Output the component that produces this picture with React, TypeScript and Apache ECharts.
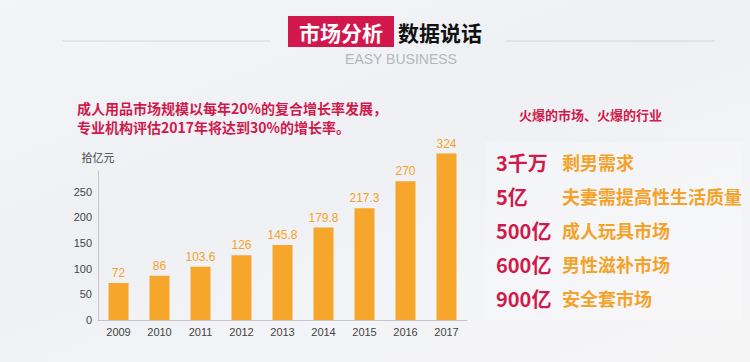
import React, { useEffect, useRef } from "react";
import * as echarts from "echarts";

const years = ["2009", "2010", "2011", "2012", "2013", "2014", "2015", "2016", "2017"];
const marketSize = [72, 86, 103.6, 126, 145.8, 179.8, 217.3, 270, 324];
const yTicks = [0, 50, 100, 150, 200, 250];
const rowNumbers = ["3千万", "5亿", "500亿", "600亿", "900亿"];
const rowTexts = ["剩男需求", "夫妻需提高性生活质量", "成人玩具市场", "男性滋补市场", "安全套市场"];

const RED = "#d01a4c";
const ORANGE = "#f5a22a";
const FONT = "'Noto Sans CJK SC', 'Noto Sans', sans-serif";

export default function App() {
  const ref = useRef<HTMLDivElement>(null);
  useEffect(() => {
    if (!ref.current) return;
    const chart = echarts.init(ref.current, undefined, { renderer: "svg" });
    const graphics: any[] = [
      { type: "rect", shape: { x: 486, y: 142, width: 256, height: 178 }, style: { fill: "rgba(255,255,255,0.22)" }, z: -1 },
      { type: "line", shape: { x1: 62, y1: 41, x2: 270, y2: 41 }, style: { stroke: "#d6d6da", lineWidth: 1 } },
      { type: "line", shape: { x1: 506, y1: 41, x2: 715, y2: 41 }, style: { stroke: "#d6d6da", lineWidth: 1 } },
      { type: "rect", shape: { x: 288, y: 16, width: 106, height: 31 }, style: { fill: "#d2174d" } },
      { type: "text", x: 341, y: 31.5, style: { text: "市场分析", fill: "#fff", font: `bold 21px ${FONT}`, textAlign: "center", textVerticalAlign: "middle" } },
      { type: "text", x: 398, y: 31.5, style: { text: "数据说话", fill: "#111", font: `bold 21px ${FONT}`, textAlign: "left", textVerticalAlign: "middle" } },
      { type: "text", x: 401, y: 58.5, style: { text: "EASY BUSINESS", fill: "#b6b6ba", font: `14px 'Liberation Sans', sans-serif`, textAlign: "center", textVerticalAlign: "middle" } },
      { type: "text", x: 77, y: 108, style: { text: "成人用品市场规模以每年20%的复合增长率发展，", fill: RED, font: `bold 14px ${FONT}`, textVerticalAlign: "middle" } },
      { type: "text", x: 77, y: 127, style: { text: "专业机构评估2017年将达到30%的增长率。", fill: RED, font: `bold 14px ${FONT}`, textVerticalAlign: "middle" } },
      { type: "text", x: 519, y: 114, style: { text: "火爆的市场、火爆的行业", fill: RED, font: `bold 13px ${FONT}`, textVerticalAlign: "middle" } },
    ];
    rowNumbers.forEach((n, i) => {
      const y = 162 + i * 34;
      graphics.push({ type: "text", x: 496, y, style: { text: n, fill: RED, font: `bold 20px ${FONT}`, textVerticalAlign: "middle" } });
      graphics.push({ type: "text", x: 562, y, style: { text: rowTexts[i], fill: ORANGE, font: `bold 18px ${FONT}`, textVerticalAlign: "middle" } });
    });

    chart.setOption({
      animation: false,
      grid: { left: 98, right: 283, top: 171, bottom: 42 },
      xAxis: {
        type: "category",
        data: years,
        axisLine: { lineStyle: { color: "#c4c4c8" } },
        axisTick: { show: false },
        axisLabel: { color: "#444", fontSize: 11, margin: 6, fontFamily: "'Liberation Sans', sans-serif" },
      },
      yAxis: {
        type: "value",
        min: 0,
        max: 290,
        interval: 50,
        name: "拾亿元",
        nameGap: 9,
        nameTextStyle: { color: "#444", fontSize: 11, fontFamily: FONT },
        axisLine: { show: true, lineStyle: { color: "#c4c4c8" } },
        axisTick: { show: false },
        splitLine: { show: false },
        axisLabel: {
          color: "#444",
          fontSize: 11,
          margin: 6,
          fontFamily: "'Liberation Sans', sans-serif",
          formatter: (v: number) => (yTicks.indexOf(v) >= 0 ? String(v) : ""),
        },
      },
      series: [
        {
          type: "bar",
          data: marketSize,
          barWidth: 20,
          clip: false,
          itemStyle: { color: "#f6a62b" },
          label: { show: true, position: "top", distance: 4, color: ORANGE, fontSize: 12, fontFamily: "'Liberation Sans', sans-serif" },
        },
      ],
      graphic: graphics,
    });
    return () => chart.dispose();
  }, []);
  return (
    <div
      style={{
        position: "fixed",
        left: 0,
        top: 0,
        width: 750,
        height: 362,
        background: "linear-gradient(160deg, #f4f5f8 0%, #eef0f4 45%, #f3f4f7 70%, #f6f5f6 100%)",
      }}
    >
      <div ref={ref} style={{ width: 750, height: 362 }} />
    </div>
  );
}
